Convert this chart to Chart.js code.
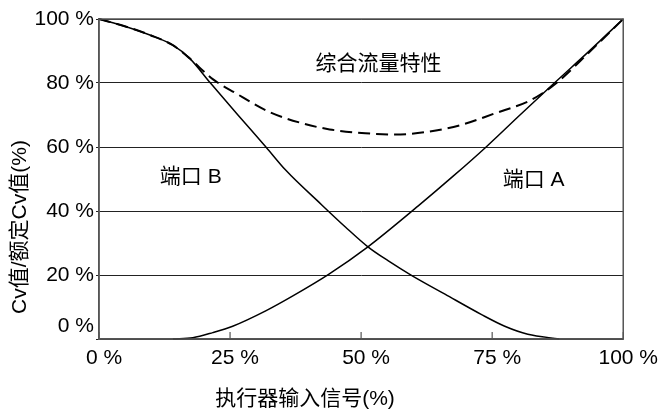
<!DOCTYPE html>
<html>
<head>
<meta charset="utf-8">
<script src="https://cdn.jsdelivr.net/npm/chart.js@4.4.1/dist/chart.umd.min.js"></script>
<style>
  html, body { margin: 0; padding: 0; background: #fff; }
  #wrap { width: 660px; height: 412px; }
</style>
</head>
<body>
<div id="wrap"><canvas id="flow-chart"></canvas></div>
<script>
// values (x: actuator signal %, y: Cv %)
var portAX = [14.1, 17.9, 21.7, 25.5, 31.8, 36.9, 43.8, 51.3, 60.9, 67.5, 73.9, 80.3, 86.8, 93.4, 100];
var portAY = [0, 0.4, 2, 4, 8.8, 13.4, 20.2, 28.8, 41.6, 50.8, 60.1, 70, 79.9, 89.8, 100];

var portBX = [0, 5.2, 9.7, 14, 17.3, 21.3, 26.5, 31.8, 35.6, 42.5, 47, 51.3, 55.2, 59.6, 66, 72.9, 77.4, 81.8, 87.8];
var portBY = [100, 97.6, 95, 91.9, 87.7, 79.9, 70, 60.1, 52.8, 41.9, 35, 28.8, 24.4, 19.9, 14, 7.7, 4, 1.5, 0];

var totalX = [0, 5.2, 9.7, 14, 17.3, 19.2, 21.7, 26.1, 32.4, 38.8, 44, 50.8, 56.5, 62.8, 69.1, 75.5, 81.8, 84.6, 87.2, 93.5, 100];
var totalY = [100, 97.6, 95, 91.9, 87.7, 84.8, 81.2, 76.8, 71, 67.4, 65.5, 64.3, 63.9, 64.8, 66.9, 70.5, 74.2, 76.8, 79.9, 89.6, 100];

var xTicks = [0, 25, 50, 75, 100];
var yTicks = [0, 20, 40, 60, 80, 100];

// text labels placed in data space
var notes = [
  { text: '综合流量特性', x: 53.3, y: 86 },
  { text: '端口 B', x: 17.5, y: 50.6 },
  { text: '端口 A', x: 82.9, y: 49.7 }
];
var xTitle = '执行器输入信号(%)';
var yTitle = 'Cv值/额定Cv值(%)';

var FONT = "'Liberation Sans', Arial, 'Noto Sans CJK SC', sans-serif";

function pts(xs, ys) {
  return xs.map(function (x, i) { return { x: x, y: ys[i] }; });
}

var extras = {
  id: 'extras',
  afterDraw: function (chart) {
    var ctx = chart.ctx, a = chart.chartArea;
    var xs = chart.scales.x, ys = chart.scales.y;
    ctx.save();
    // frame
    ctx.strokeStyle = '#555';
    ctx.lineWidth = 1.5;
    ctx.strokeRect(a.left, a.top, a.right - a.left, a.bottom - a.top);
    // inner x ticks
    ctx.lineWidth = 1.2;
    xTicks.forEach(function (v) {
      var px = xs.getPixelForValue(v);
      ctx.beginPath();
      ctx.moveTo(px, a.bottom);
      ctx.lineTo(px, a.bottom - 7);
      ctx.stroke();
    });
    // notes
    ctx.fillStyle = '#000';
    ctx.font = '21px ' + FONT;
    ctx.textAlign = 'center';
    ctx.textBaseline = 'middle';
    notes.forEach(function (n) {
      ctx.fillText(n.text, xs.getPixelForValue(n.x), ys.getPixelForValue(n.y));
    });
    // axis titles
    ctx.fillText(xTitle, xs.getPixelForValue(39.3), 399);
    ctx.translate(20, ys.getPixelForValue(35));
    ctx.rotate(-Math.PI / 2);
    ctx.fillText(yTitle, 0, 0);
    ctx.restore();
  }
};

new Chart(document.getElementById('flow-chart'), {
  type: 'line',
  data: {
    datasets: [
      {
        label: '端口 A',
        data: pts(portAX, portAY),
        borderColor: '#000',
        borderWidth: 1.5,
        pointRadius: 0,
        cubicInterpolationMode: 'monotone',
        clip: 4
      },
      {
        label: '端口 B',
        data: pts(portBX, portBY),
        borderColor: '#000',
        borderWidth: 1.5,
        pointRadius: 0,
        cubicInterpolationMode: 'monotone',
        clip: 4
      },
      {
        label: '综合流量特性',
        data: pts(totalX, totalY),
        borderColor: '#000',
        borderWidth: 2,
        borderDash: [12, 6],
        pointRadius: 0,
        cubicInterpolationMode: 'monotone',
        clip: 4
      }
    ]
  },
  options: {
    responsive: true,
    maintainAspectRatio: false,
    animation: false,
    layout: { padding: { left: 0, right: 34, top: 19, bottom: 0 } },
    plugins: {
      legend: { display: false },
      tooltip: { enabled: false }
    },
    scales: {
      x: {
        type: 'linear',
        min: 0,
        max: 100,
        afterBuildTicks: function (s) { s.ticks = xTicks.map(function (v) { return { value: v }; }); },
        afterFit: function (s) { s.height = 73; },
        grid: { display: false, drawTicks: false },
        border: { display: true, color: '#555', width: 1.5 },
        ticks: {
          color: '#000',
          font: { family: FONT, size: 21 },
          padding: 7,
          labelOffset: 5,
          maxRotation: 0,
          callback: function (v) { return v + ' %'; }
        }
      },
      y: {
        min: 0,
        max: 100,
        afterBuildTicks: function (s) { s.ticks = yTicks.map(function (v) { return { value: v }; }); },
        afterFit: function (s) { s.width = 99; },
        grid: {
          color: '#222',
          lineWidth: 1,
          tickLength: 3
        },
        border: { display: true, color: '#555', width: 1.5 },
        ticks: {
          color: '#000',
          font: { family: FONT, size: 21 },
          padding: 2,
          // the 0 % label sits a little above the axis in the original
          callback: function (v) { return v === 0 ? ['0 %', ''] : v + ' %'; }
        }
      }
    }
  },
  plugins: [extras]
});
</script>
</body>
</html>
